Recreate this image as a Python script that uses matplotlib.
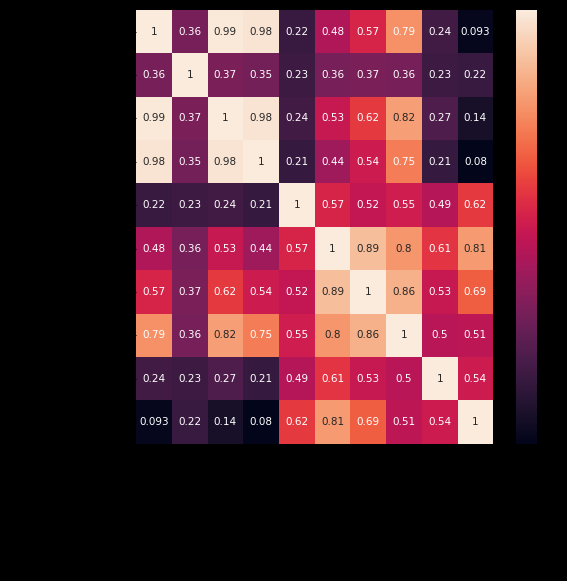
import matplotlib
matplotlib.use("Agg")
import matplotlib.pyplot as plt
import numpy as np
import seaborn as sns

labels = ["f0", "f1", "f2", "f3", "f4", "f5", "f6", "f7", "f8", "f9"]
corr = [
    [1, 0.36, 0.99, 0.98, 0.22, 0.48, 0.57, 0.79, 0.24, 0.093],
    [0.36, 1, 0.37, 0.35, 0.23, 0.36, 0.37, 0.36, 0.23, 0.22],
    [0.99, 0.37, 1, 0.98, 0.24, 0.53, 0.62, 0.82, 0.27, 0.14],
    [0.98, 0.35, 0.98, 1, 0.21, 0.44, 0.54, 0.75, 0.21, 0.08],
    [0.22, 0.23, 0.24, 0.21, 1, 0.57, 0.52, 0.55, 0.49, 0.62],
    [0.48, 0.36, 0.53, 0.44, 0.57, 1, 0.89, 0.8, 0.61, 0.81],
    [0.57, 0.37, 0.62, 0.54, 0.52, 0.89, 1, 0.86, 0.53, 0.69],
    [0.79, 0.36, 0.82, 0.75, 0.55, 0.8, 0.86, 1, 0.5, 0.51],
    [0.24, 0.23, 0.27, 0.21, 0.49, 0.61, 0.53, 0.5, 1, 0.54],
    [0.093, 0.22, 0.14, 0.08, 0.62, 0.81, 0.69, 0.51, 0.54, 1],
]

fig = plt.figure(figsize=(5.67, 5.81), dpi=100, facecolor="black")
ax = fig.add_axes([0.240, 0.236, 0.630, 0.747])
cax = fig.add_axes([0.910, 0.236, 0.037, 0.747])
sns.heatmap(np.array(corr), annot=True, ax=ax, cbar_ax=cax,
            xticklabels=labels, yticklabels=labels,
            annot_kws={"fontsize": 7.5})
for a in (ax, cax):
    a.tick_params(colors="black")
    for t in a.get_xticklabels() + a.get_yticklabels():
        t.set_color("black")
fig.savefig("out.png", dpi=100, facecolor="black")
